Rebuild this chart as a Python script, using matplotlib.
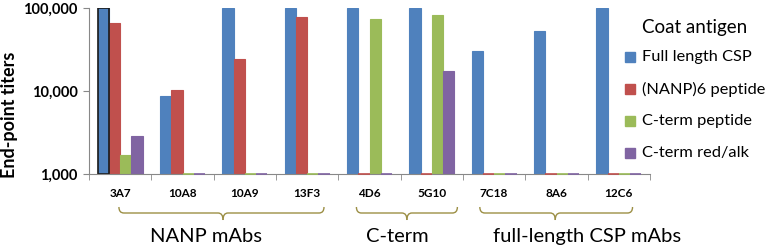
import numpy as np
import matplotlib
matplotlib.use('Agg')
import matplotlib.pyplot as plt
from matplotlib.path import Path
from matplotlib.patches import PathPatch, Rectangle
from matplotlib.transforms import blended_transform_factory

plt.rcParams['font.family'] = ['Lato', 'DejaVu Sans']

mabs = ['3A7', '10A8', '10A9', '13F3', '4D6', '5G10', '7C18', '8A6', '12C6']
series = ['Full length CSP', '(NANP)6 peptide', 'C-term peptide', 'C-term red/alk']
full_csp = [100000, 8700, 100000, 100000, 100000, 100000, 30300, 53300, 100000]
nanp6 = [66500, 10400, 24100, 77300, 1000, 1000, 1000, 1000, 1000]
cterm_pep = [1690, 1000, 1000, 1000, 73100, 81700, 1000, 1000, 1000]
cterm_redalk = [2890, 1000, 1000, 1000, 1000, 17600, 1000, 1000, 1000]
groups = ['NANP mAbs', 'C-term', 'full-length CSP mAbs']

colors = ['#4F81BD', '#C0504D', '#9BBB59', '#8064A2']
values = [full_csp, nanp6, cterm_pep, cterm_redalk]

W, H = 769, 249
fig = plt.figure(figsize=(W/100, H/100), dpi=100)
ax = fig.add_axes([89/W, 1-174/H, (650-89)/W, (174-8)/H])

x = np.arange(len(mabs))
w = 0.18
for i, (vals, c, name) in enumerate(zip(values, colors, series)):
    ax.bar(x + (i - 1.5) * w, np.array(vals) - 1000, width=w, bottom=1000,
           color=c, edgecolor=c, linewidth=0.8, label=name)
    # thin line for bars sitting at the axis minimum
    for xi, v in zip(x, vals):
        if v <= 1000:
            ax.plot([xi + (i - 1.5) * w - w/2, xi + (i - 1.5) * w + w/2], [1000, 1000],
                    color=c, lw=1.2, solid_capstyle='butt', clip_on=False, zorder=3)
# outline on the first bar (selected in original)
ax.bar(x[0] - 1.5 * w, full_csp[0] - 1000, width=w, bottom=1000,
       facecolor='none', edgecolor='#1a1a1a', linewidth=1.2)

ax.set_yscale('log')
ax.set_ylim(1000, 100000)
ax.set_xlim(-0.5, len(mabs) - 0.5)
ax.set_yticks([1000, 10000, 100000])
ax.set_yticklabels(['1,000', '10,000', '100,000'], fontweight='bold', fontsize=10.5)
ax.yaxis.set_minor_locator(matplotlib.ticker.NullLocator())
ax.tick_params(axis='y', length=4, color='#888888', pad=4)
ax.set_xticks(x)
ax.set_xticklabels(mabs, fontweight='bold', fontsize=8.5)
ax.tick_params(axis='x', length=0, pad=10)
ax.set_xticks(np.arange(len(mabs) + 1) - 0.5, minor=True)
ax.tick_params(axis='x', which='minor', length=4, color='#888888')
for s in ['top', 'right']:
    ax.spines[s].set_visible(False)
for s in ['left', 'bottom']:
    ax.spines[s].set_color('#888888')
ax.set_ylabel('End-point titers', fontweight='bold', fontsize=13, va='center')
ax.yaxis.set_label_coords(-(89 - 10) / 561, (174 - 115) / 166)

# legend drawn by hand so it sits like the original
fig.text(642/W, 1 - 28/H, 'Coat antigen', ha='left', va='center', fontsize=13.5)
leg_y = [57, 89, 121, 153]
for name, c, yy in zip(series, colors, leg_y):
    fig.patches.append(Rectangle((625/W, 1 - (yy + 5)/H), 10/W, 10/H,
                                 transform=fig.transFigure, color=c))
    fig.text(642/W, 1 - yy/H, name, ha='left', va='center', fontsize=11.8)

# braces under the tick labels
brace_color = '#9C8F45'
brace_spans = [(-0.02, 3.27, 1.65), (3.79, 5.41, 4.6), (5.77, 8.22, 6.98)]
trans = blended_transform_factory(ax.transData, fig.transFigure)
y_top, y_mid, y_bot = 1 - 207/H, 1 - 213/H, 1 - 220/H
d = 0.08
for x0, x1, xm in brace_spans:
    p = Path([(x0, y_top), (x0, y_mid), (x0 + d, y_mid), (xm - d, y_mid),
              (xm, y_mid), (xm, y_bot)],
             [Path.MOVETO, Path.CURVE3, Path.CURVE3, Path.LINETO,
              Path.CURVE3, Path.CURVE3])
    q = Path([(x1, y_top), (x1, y_mid), (x1 - d, y_mid), (xm + d, y_mid),
              (xm, y_mid), (xm, y_bot)],
             [Path.MOVETO, Path.CURVE3, Path.CURVE3, Path.LINETO,
              Path.CURVE3, Path.CURVE3])
    for pp in (p, q):
        ax.add_patch(PathPatch(pp, transform=trans, fill=False,
                               edgecolor=brace_color, linewidth=1.0, clip_on=False))

group_x = [206/W, 397/W, 587/W]
for g, gx in zip(groups, group_x):
    fig.text(gx, 1 - 236/H, g, ha='center', va='center', fontsize=14.5)

fig.savefig('out.png', dpi=100)
